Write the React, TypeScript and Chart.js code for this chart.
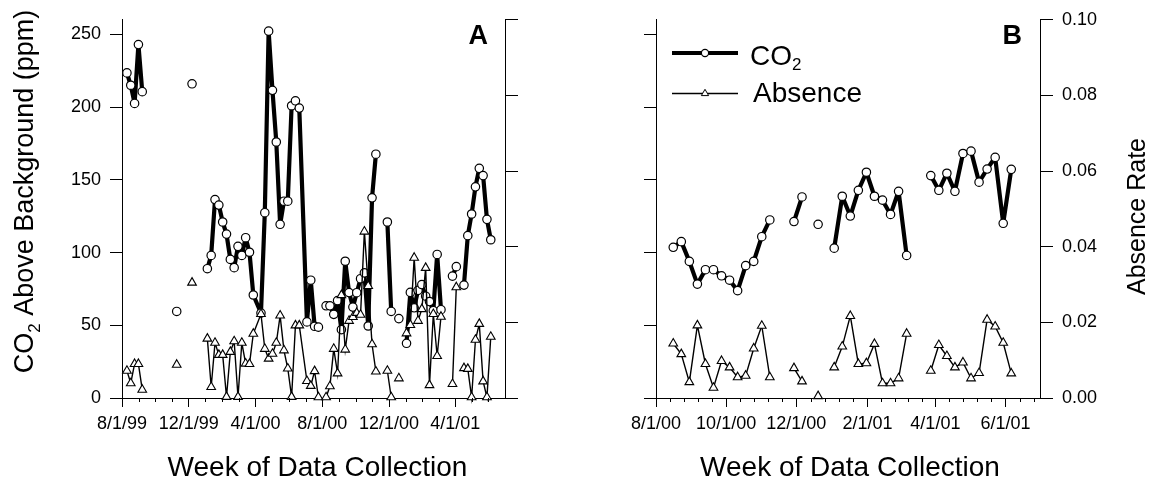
import React, { useEffect, useRef } from 'react';
import { Chart, registerables } from 'chart.js';

Chart.register(...registerables);

const W = 1149;
const H = 492;
const FONT = '"Liberation Sans", Arial, Helvetica, sans-serif';

// ---------- Panel A data (weekly samples; null = missing week) ----------
const datesA = [
  '1999-08-10', '1999-08-17', '1999-08-24', '1999-08-31', '1999-09-07',
  '1999-09-14',
  '1999-11-09',
  '1999-11-16',
  '1999-12-07',
  '1999-12-14',
  '2000-01-04', '2000-01-11', '2000-01-18', '2000-01-25', '2000-02-01', '2000-02-08', '2000-02-15',
  '2000-02-22', '2000-02-29', '2000-03-07', '2000-03-14', '2000-03-21', '2000-03-28',
  '2000-04-11', '2000-04-18', '2000-04-25', '2000-05-02', '2000-05-09', '2000-05-16', '2000-05-23',
  '2000-05-30', '2000-06-06', '2000-06-13', '2000-06-20',
  '2000-07-04', '2000-07-11', '2000-07-18', '2000-07-25',
  '2000-08-01',
  '2000-08-08', '2000-08-15', '2000-08-22', '2000-08-29', '2000-09-05', '2000-09-12', '2000-09-19',
  '2000-09-26', '2000-10-03', '2000-10-10', '2000-10-17', '2000-10-24', '2000-10-31', '2000-11-07',
  '2000-11-14',
  '2000-11-28', '2000-12-05',
  '2000-12-12',
  '2000-12-19',
  '2000-12-26',
  '2001-01-02', '2001-01-09', '2001-01-16', '2001-01-23', '2001-01-30', '2001-02-06', '2001-02-13',
  '2001-02-20', '2001-02-27', '2001-03-06',
  '2001-03-13',
  '2001-03-27', '2001-04-03',
  '2001-04-10',
  '2001-04-17', '2001-04-24', '2001-05-01', '2001-05-08', '2001-05-15', '2001-05-22', '2001-05-29',
  '2001-06-05',
];

const co2A = [
  223.5, 215, 202.5, 243, 210.6,
  null,
  59.5,
  null,
  216,
  null,
  88.9, 98, 136.4, 132.6, 121, 112.7, 95.3,
  89.6, 104.3, 98, 110.2, 100.2, 70.8,
  58.4, 127.4, 252.2, 211.5, 176, 119.4, 135.3,
  135.3, 200.9, 204.3, 199.3,
  52.3, 81, 49.3, 48.7,
  null,
  63.4, 63.4, 57.5, 67, 47, 94, 72.5,
  62.5, 72.4, 82, 86, 49.5, 137.6, 167.6,
  null,
  121, 59.5,
  null,
  54.6,
  null,
  37.6, 72.6, 62, 74, 78, 70, 66.3,
  60, 98.7, 60.7,
  null,
  83.8, 90.3,
  null,
  77.6, 111.6, 126.5, 145.2, 157.9, 152.9, 122.8,
  108.8,
];

const absenceA = [
  0.0072, 0.0039, 0.009, 0.009, 0.0022,
  null,
  0.0088,
  null,
  0.0305,
  null,
  0.0157, 0.0029, 0.0146, 0.0114, 0.0114, 0.0003, 0.0122,
  0.015, 0.0003, 0.0146, 0.0091, 0.009, 0.017,
  0.0222, 0.013, 0.0104, 0.0117, 0.0146, 0.0218, 0.0126,
  0.0078, 0.0003, 0.0192, 0.0192,
  0.0045, 0.0032, 0.0071, 0.0002,
  null,
  0.0002, 0.0031, 0.013, 0.0065, 0.0272, 0.0128, 0.0204,
  0.0214, 0.0225, 0.022, 0.044, 0.0296, 0.0142, 0.007,
  null,
  0.0072, 0.0002,
  null,
  0.0052,
  null,
  0.0171, 0.0193, 0.0371, 0.0204, 0.0235, 0.0344, 0.0034,
  0.0222, 0.0111, 0.0215,
  null,
  0.0037, 0.0293,
  null,
  0.0079, 0.0077, 0.0002, 0.0154, 0.0196, 0.0044, 0.0002,
  0.0162,
];

const xRangeA = ['1999-08-01', '2001-07-01'];
const xTicksA = ['1999-08-01', '1999-12-01', '2000-04-01', '2000-08-01', '2000-12-01', '2001-04-01'];
const xTickLabelsA = ['8/1/99', '12/1/99', '4/1/00', '8/1/00', '12/1/00', '4/1/01'];

// ---------- Panel B data ----------
const datesB = [
  '2000-08-16', '2000-08-23', '2000-08-30', '2000-09-06', '2000-09-13', '2000-09-20', '2000-09-27',
  '2000-10-04', '2000-10-11', '2000-10-18', '2000-10-25', '2000-11-01', '2000-11-08',
  '2000-11-15',
  '2000-11-29', '2000-12-06',
  '2000-12-13',
  '2000-12-20',
  '2000-12-27',
  '2001-01-03', '2001-01-10', '2001-01-17', '2001-01-24', '2001-01-31', '2001-02-07', '2001-02-14',
  '2001-02-21', '2001-02-28', '2001-03-07',
  '2001-03-14',
  '2001-03-28', '2001-04-04', '2001-04-11', '2001-04-18', '2001-04-25', '2001-05-02', '2001-05-09',
  '2001-05-16', '2001-05-23', '2001-05-30', '2001-06-06',
];

const co2B = [
  103.6, 107.5, 93.9, 78.3, 88.2, 88.2, 84,
  81, 73.8, 91, 93.9, 110.9, 122.4,
  null,
  121.3, 138.2,
  null,
  119.4,
  null,
  103, 138.7, 125.1, 142.8, 155.2, 138.7, 136,
  126.2, 142.1, 98,
  null,
  152.9, 142.8, 154.5, 142.1, 168.1, 169.7, 148.4,
  157.4, 165.4, 120.1, 157.2,
];

const absenceB = [
  0.0144, 0.0116, 0.0042, 0.0192, 0.009, 0.0027, 0.0098,
  0.0081, 0.0055, 0.0059, 0.0131, 0.0191, 0.0055,
  null,
  0.0079, 0.0044,
  null,
  0.0005,
  null,
  0.0081, 0.0136, 0.0217, 0.009, 0.0092, 0.0143, 0.0039,
  0.0039, 0.0052, 0.017,
  null,
  0.0072, 0.014, 0.0111, 0.0081, 0.0094, 0.0052, 0.0066,
  0.0207, 0.0189, 0.0146, 0.0065,
];

const xRangeB = ['2000-08-01', '2001-07-01'];
const xTicksB = ['2000-08-01', '2000-10-01', '2000-12-01', '2001-02-01', '2001-04-01', '2001-06-01'];
const xTickLabelsB = ['8/1/00', '10/1/00', '12/1/00', '2/1/01', '4/1/01', '6/1/01'];

// ---------- shared axes ----------
const co2Ticks = [0, 50, 100, 150, 200, 250];
const co2Max = 260;
const absenceTicks = [0, 0.02, 0.04, 0.06, 0.08, 0.1];
const absenceMax = 0.1;

const dayNum = (s: string): number => {
  const [y, m, d] = s.split('-').map(Number);
  return Date.UTC(y, m - 1, d) / 86400000;
};

type Part = { t: string; size: number; dy?: number; bold?: boolean };

function drawParts(ctx: CanvasRenderingContext2D, parts: Part[], x: number, y: number, rot: number, align: 'left' | 'center' | 'right') {
  ctx.save();
  ctx.translate(x, y);
  if (rot) ctx.rotate(rot);
  const widths: number[] = [];
  let total = 0;
  parts.forEach((p) => {
    ctx.font = `${p.bold ? 'bold ' : ''}${p.size}px ${FONT}`;
    const w = ctx.measureText(p.t).width;
    widths.push(w);
    total += w;
  });
  let cx = align === 'center' ? -total / 2 : align === 'right' ? -total : 0;
  ctx.textAlign = 'left';
  ctx.textBaseline = 'alphabetic';
  ctx.fillStyle = '#000';
  parts.forEach((p, i) => {
    ctx.font = `${p.bold ? 'bold ' : ''}${p.size}px ${FONT}`;
    ctx.fillText(p.t, cx, p.dy || 0);
    cx += widths[i];
  });
  ctx.restore();
}

type PanelSpec = {
  key: string;
  dates: string[];
  co2: (number | null)[];
  absence: (number | null)[];
  range: string[];
  majors: string[];
  majorLabels: string[];
  minorPerMajor: number;
  left: number;
  right: number;
  top: number;
  bottom: number;
  rightWidth: number;
  leftLabels: boolean;
  rightLabels: boolean;
  decorate: (ctx: CanvasRenderingContext2D) => void;
};

function buildChart(canvas: HTMLCanvasElement, p: PanelSpec): Chart {
  const toPts = (vals: (number | null)[]) => p.dates.map((d, i) => ({ x: dayNum(d), y: vals[i] }));
  const xHeight = 60;

  const decor = {
    id: 'decor' + p.key,
    afterDraw(chart: any) {
      const ctx: CanvasRenderingContext2D = chart.ctx;
      const xs = chart.scales.x;
      const bottom = chart.chartArea.bottom;
      ctx.save();
      ctx.strokeStyle = '#000';
      ctx.lineWidth = 1;
      ctx.beginPath();
      const maj = p.majors.map(dayNum);
      const maxD = dayNum(p.range[1]);
      for (let i = 0; i < maj.length; i++) {
        const next = i < maj.length - 1 ? maj[i + 1] : maj[i] + (maj[i] - maj[i - 1]);
        const step = (next - maj[i]) / (p.minorPerMajor + 1);
        for (let j = 1; j <= p.minorPerMajor; j++) {
          const d = maj[i] + j * step;
          if (d >= maxD - 1) break;
          const px = Math.round(xs.getPixelForValue(d)) + 0.5;
          ctx.moveTo(px, Math.round(bottom));
          ctx.lineTo(px, Math.round(bottom) + 4);
        }
      }
      ctx.stroke();
      ctx.restore();
      p.decorate(ctx);
    },
  };

  const yTickOpts = (labels: boolean, fmt: (v: number) => string) => ({
    color: '#000',
    padding: 9,
    font: { family: FONT, size: 18 },
    callback: (v: any) => (labels ? fmt(Number(v)) : ''),
  });

  return new Chart(canvas, {
    type: 'line',
    data: {
      datasets: [
        {
          label: 'Absence',
          data: toPts(p.absence),
          yAxisID: 'y2',
          order: 1,
          borderColor: '#000',
          borderWidth: 1.4,
          pointStyle: 'triangle',
          pointRadius: 5,
          pointBackgroundColor: '#fff',
          pointBorderColor: '#000',
          pointBorderWidth: 1.1,
          spanGaps: false,
          clip: false,
        } as any,
        {
          label: 'CO2',
          data: toPts(p.co2),
          yAxisID: 'y',
          order: 2,
          borderColor: '#000',
          borderWidth: 4.2,
          borderJoinStyle: 'round',
          pointStyle: 'circle',
          pointRadius: 4.2,
          pointBackgroundColor: '#fff',
          pointBorderColor: '#000',
          pointBorderWidth: 1.2,
          spanGaps: false,
          clip: false,
        } as any,
      ],
    },
    options: {
      responsive: false,
      animation: false,
      devicePixelRatio: 1,
      events: [],
      layout: {
        padding: {
          left: 0,
          right: W - p.right - p.rightWidth,
          top: p.top,
          bottom: H - p.bottom - xHeight,
        },
      },
      plugins: { legend: { display: false }, tooltip: { enabled: false } },
      scales: {
        x: {
          type: 'linear',
          position: 'bottom',
          min: dayNum(p.range[0]),
          max: dayNum(p.range[1]),
          afterBuildTicks: (s: any) => {
            s.ticks = p.majors.map((d) => ({ value: dayNum(d) }));
          },
          afterFit: (s: any) => {
            s.height = xHeight;
          },
          ticks: {
            autoSkip: false,
            maxRotation: 0,
            minRotation: 0,
            padding: 6,
            color: '#000',
            font: { family: FONT, size: 18 },
            callback: (_v: any, i: number) => p.majorLabels[i],
          },
          grid: { drawOnChartArea: false, drawTicks: true, tickLength: 9, color: '#000', lineWidth: 1 },
          border: { display: true, color: '#000', width: 1 },
        },
        y: {
          type: 'linear',
          position: 'left',
          min: 0,
          max: co2Max,
          afterBuildTicks: (s: any) => {
            s.ticks = co2Ticks.map((v) => ({ value: v }));
          },
          afterFit: (s: any) => {
            s.width = p.left;
          },
          ticks: yTickOpts(p.leftLabels, (v) => String(v)),
          grid: { drawOnChartArea: false, drawTicks: true, tickLength: 12, color: '#000', lineWidth: 1 },
          border: { display: true, color: '#000', width: 1 },
        },
        y2: {
          type: 'linear',
          position: 'right',
          min: 0,
          max: absenceMax,
          afterBuildTicks: (s: any) => {
            s.ticks = absenceTicks.map((v) => ({ value: v }));
          },
          afterFit: (s: any) => {
            s.width = p.rightWidth;
          },
          ticks: yTickOpts(p.rightLabels, (v) => v.toFixed(2)),
          grid: { drawOnChartArea: false, drawTicks: true, tickLength: 13, color: '#000', lineWidth: 1 },
          border: { display: true, color: '#000', width: 1 },
        },
      },
    } as any,
    plugins: [decor],
  });
}

const TITLE = 27;

const panelA: PanelSpec = {
  key: 'A',
  dates: datesA,
  co2: co2A,
  absence: absenceA,
  range: xRangeA,
  majors: xTicksA,
  majorLabels: xTickLabelsA,
  minorPerMajor: 3,
  left: 122,
  right: 505,
  top: 14,
  bottom: 398,
  rightWidth: 40,
  leftLabels: true,
  rightLabels: false,
  decorate: (ctx) => {
    drawParts(
      ctx,
      [
        { t: 'CO', size: TITLE },
        { t: '2', size: 17, dy: 7 },
        { t: ' Above Background (ppm)', size: TITLE },
      ],
      32.5,
      191.5,
      -Math.PI / 2,
      'center'
    );
    drawParts(ctx, [{ t: 'Week of Data Collection', size: 28 }], 317.5, 476, 0, 'center');
    drawParts(ctx, [{ t: 'A', size: 27, bold: true }], 488, 44.3, 0, 'right');
  },
};

const panelB: PanelSpec = {
  key: 'B',
  dates: datesB,
  co2: co2B,
  absence: absenceB,
  range: xRangeB,
  majors: xTicksB,
  majorLabels: xTickLabelsB,
  minorPerMajor: 4,
  left: 656,
  right: 1040,
  top: 14,
  bottom: 398,
  rightWidth: 109,
  leftLabels: false,
  rightLabels: true,
  decorate: (ctx) => {
    drawParts(ctx, [{ t: 'Week of Data Collection', size: 28 }], 850, 476, 0, 'center');
    drawParts(ctx, [{ t: 'Absence Rate', size: 25 }], 1145, 216.5, -Math.PI / 2, 'center');
    drawParts(ctx, [{ t: 'B', size: 27, bold: true }], 1022, 44.3, 0, 'right');
    // legend
    ctx.save();
    ctx.strokeStyle = '#000';
    ctx.lineCap = 'butt';
    ctx.lineWidth = 4;
    ctx.beginPath();
    ctx.moveTo(672, 53);
    ctx.lineTo(738, 53);
    ctx.stroke();
    ctx.lineWidth = 1.2;
    ctx.fillStyle = '#fff';
    ctx.beginPath();
    ctx.arc(705, 53, 3.6, 0, Math.PI * 2);
    ctx.fill();
    ctx.stroke();
    ctx.lineWidth = 1.4;
    ctx.beginPath();
    ctx.moveTo(672, 93.5);
    ctx.lineTo(738, 93.5);
    ctx.stroke();
    const r = 4.2;
    ctx.beginPath();
    ctx.moveTo(705, 93.5 - r);
    ctx.lineTo(705 + r * 0.866, 93.5 + r / 2);
    ctx.lineTo(705 - r * 0.866, 93.5 + r / 2);
    ctx.closePath();
    ctx.fill();
    ctx.lineWidth = 1;
    ctx.stroke();
    ctx.restore();
    drawParts(
      ctx,
      [
        { t: 'CO', size: 28 },
        { t: '2', size: 17, dy: 5 },
      ],
      750,
      64.5,
      0,
      'left'
    );
    drawParts(ctx, [{ t: 'Absence', size: 28 }], 753, 101.7, 0, 'left');
  },
};

export default function App() {
  const refA = useRef<HTMLCanvasElement>(null);
  const refB = useRef<HTMLCanvasElement>(null);

  useEffect(() => {
    if (!refA.current || !refB.current) return;
    const a = buildChart(refA.current, panelA);
    const b = buildChart(refB.current, panelB);
    return () => {
      a.destroy();
      b.destroy();
    };
  }, []);

  const canvasStyle: React.CSSProperties = { position: 'absolute', left: 0, top: 0, width: W, height: H };
  return (
    <div style={{ position: 'absolute', left: 0, top: 0, width: W, height: H, background: '#fff' }}>
      <canvas ref={refA} width={W} height={H} style={canvasStyle} />
      <canvas ref={refB} width={W} height={H} style={canvasStyle} />
    </div>
  );
}
